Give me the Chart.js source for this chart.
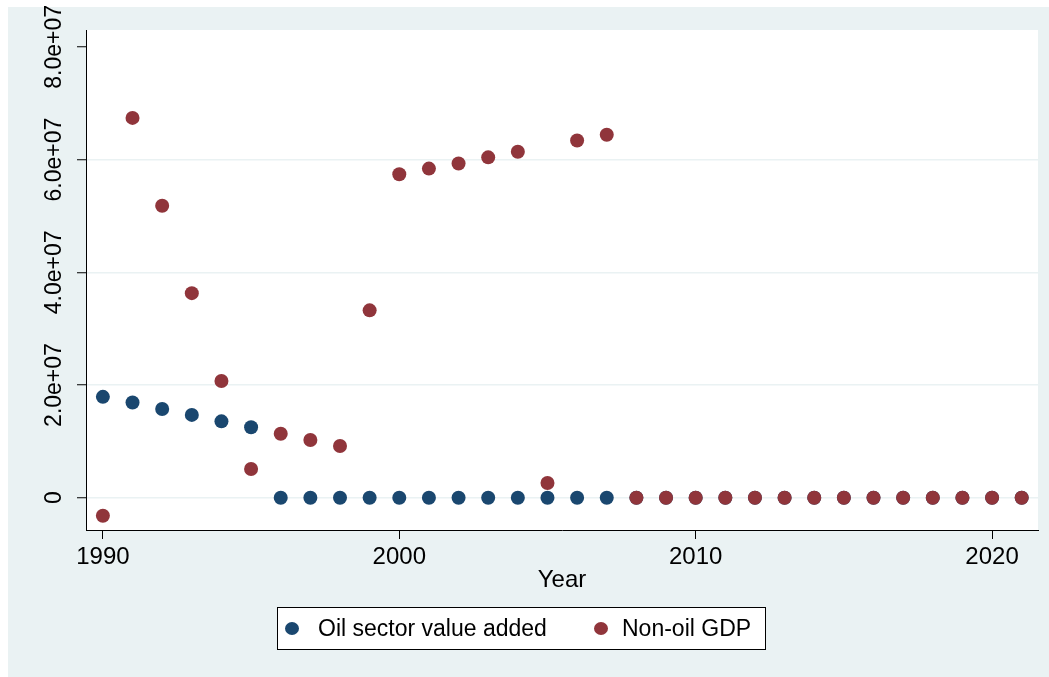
<!DOCTYPE html>
<html>
<head>
<meta charset="utf-8">
<title>Oil sector value added and Non-oil GDP</title>
<script src="https://cdn.jsdelivr.net/npm/chart.js@4.4.1/dist/chart.umd.min.js"></script>
<style>
  html, body { margin: 0; padding: 0; background: #ffffff; }
  canvas { display: block; }
</style>
</head>
<body>
<canvas id="chart" width="1049" height="677"></canvas>
<script>
// Series by year
const years = [1990, 1991, 1992, 1993, 1994, 1995, 1996, 1997, 1998, 1999,
               2000, 2001, 2002, 2003, 2004, 2005, 2006, 2007, 2008, 2009,
               2010, 2011, 2012, 2013, 2014, 2015, 2016, 2017, 2018, 2019,
               2020, 2021];

const oilValueAdded = [17900000, 16900000, 15750000, 14700000, 13550000, 12500000,
                       0, 0, 0, 0, 0, 0, 0, 0, 0, 0, 0, 0, 0, 0,
                       0, 0, 0, 0, 0, 0, 0, 0, 0, 0, 0, 0];

const nonOilGdp = [-3200000, 67400000, 51800000, 36300000, 20700000, 5100000,
                   11360000, 10240000, 9170000, 33250000, 57400000, 58400000,
                   59300000, 60400000, 61400000, 2600000, 63400000, 64400000,
                   0, 0, 0, 0, 0, 0, 0, 0, 0, 0, 0, 0, 0, 0];

const seriesNames = ['Oil sector value added', 'Non-oil GDP'];
const seriesColors = ['#1a476f', '#90353b'];

const xTickValues = [1990, 2000, 2010, 2020];
const yTickValues = [0, 20000000, 40000000, 60000000, 80000000];
const yTickLabels = ['0', '2.0e+07', '4.0e+07', '6.0e+07', '8.0e+07'];
const xTitle = 'Year';

const FONT = '"Liberation Sans", Arial, Helvetica, sans-serif';
const PAGE_BG = '#eaf2f3';

function toPoints(values) {
  return years.map((yr, i) => ({ x: yr, y: values[i] }));
}

// Frame: white margin, tinted graph region, white plot region
const framePlugin = {
  id: 'frame',
  beforeDraw(chart) {
    const { ctx, width, height, chartArea } = chart;
    ctx.save();
    ctx.fillStyle = '#ffffff';
    ctx.fillRect(0, 0, width, height);
    ctx.fillStyle = PAGE_BG;
    ctx.fillRect(8, 7, width - 8, height - 7);
    ctx.fillStyle = '#ffffff';
    ctx.fillRect(chartArea.left, chartArea.top,
                 chartArea.right - chartArea.left, chartArea.bottom - chartArea.top);
    ctx.restore();
  }
};

// Vertical y tick labels, centred on each tick
const yLabelPlugin = {
  id: 'yLabels',
  afterDraw(chart) {
    const { ctx } = chart;
    const yScale = chart.scales.y;
    ctx.save();
    ctx.fillStyle = '#000000';
    ctx.font = '23px ' + FONT;
    ctx.textAlign = 'center';
    ctx.textBaseline = 'middle';
    yTickValues.forEach((v, i) => {
      const py = yScale.getPixelForValue(v);
      ctx.save();
      ctx.translate(55, py);
      ctx.rotate(-Math.PI / 2);
      ctx.fillText(yTickLabels[i], 0, 0);
      ctx.restore();
    });
    ctx.restore();
  }
};

// Boxed legend below the axis title
const legendBoxPlugin = {
  id: 'legendBox',
  afterDraw(chart) {
    const { ctx } = chart;
    const box = { x: 277.5, y: 607.5, w: 488, h: 42 };
    const cy = box.y + box.h / 2;
    ctx.save();
    ctx.fillStyle = '#ffffff';
    ctx.fillRect(box.x, box.y, box.w, box.h);
    ctx.strokeStyle = '#000000';
    ctx.lineWidth = 1;
    ctx.strokeRect(box.x, box.y, box.w, box.h);
    const markerX = [292, 601];
    const textX = [318, 622];
    ctx.font = '23px ' + FONT;
    ctx.textAlign = 'left';
    ctx.textBaseline = 'middle';
    seriesNames.forEach((name, i) => {
      ctx.fillStyle = seriesColors[i];
      ctx.beginPath();
      ctx.ellipse(markerX[i], cy, 7, 6.5, 0, 0, Math.PI * 2);
      ctx.fill();
      ctx.fillStyle = '#000000';
      ctx.fillText(name, textX[i], cy + 1);
    });
    ctx.restore();
  }
};

new Chart(document.getElementById('chart'), {
  type: 'scatter',
  data: {
    datasets: [
      {
        label: seriesNames[0],
        data: toPoints(oilValueAdded),
        backgroundColor: seriesColors[0],
        borderColor: seriesColors[0],
        borderWidth: 0,
        pointRadius: 7,
        pointHoverRadius: 7,
        order: 1
      },
      {
        label: seriesNames[1],
        data: toPoints(nonOilGdp),
        backgroundColor: seriesColors[1],
        borderColor: seriesColors[1],
        borderWidth: 0,
        pointRadius: 7,
        pointHoverRadius: 7,
        order: 0
      }
    ]
  },
  options: {
    responsive: false,
    animation: false,
    devicePixelRatio: 1,
    layout: { padding: { left: 8, top: 30, right: 11, bottom: 82 } },
    plugins: {
      legend: { display: false },
      tooltip: { enabled: false }
    },
    scales: {
      x: {
        type: 'linear',
        min: 1989.43,
        max: 2021.55,
        afterBuildTicks: (scale) => { scale.ticks = xTickValues.map(v => ({ value: v })); },
        afterFit: (scale) => { scale.height = 65; },
        grid: {
          display: true,
          drawOnChartArea: false,
          drawTicks: true,
          tickLength: 9,
          tickColor: '#000000',
          tickWidth: 1
        },
        border: { display: true, color: '#000000', width: 1 },
        ticks: {
          color: '#000000',
          font: { family: FONT, size: 24 },
          padding: 4,
          maxRotation: 0,
          minRotation: 0,
          autoSkip: false,
          callback: (v) => String(v)
        },
        title: {
          display: true,
          text: xTitle,
          color: '#000000',
          font: { family: FONT, size: 24 },
          padding: { top: 0, bottom: 0 }
        }
      },
      y: {
        type: 'linear',
        min: -5730000,
        max: 83000000,
        afterBuildTicks: (scale) => { scale.ticks = yTickValues.map(v => ({ value: v })); },
        afterFit: (scale) => { scale.width = 78; },
        grid: {
          color: (c) => (c.tick && c.tick.value === 80000000) ? 'rgba(0,0,0,0)' : PAGE_BG,
          lineWidth: 1.5,
          drawTicks: true,
          tickLength: 9,
          tickColor: '#000000',
          tickWidth: 1
        },
        border: { display: true, color: '#000000', width: 1 },
        ticks: { display: false }
      }
    }
  },
  plugins: [framePlugin, yLabelPlugin, legendBoxPlugin]
});
</script>
</body>
</html>
